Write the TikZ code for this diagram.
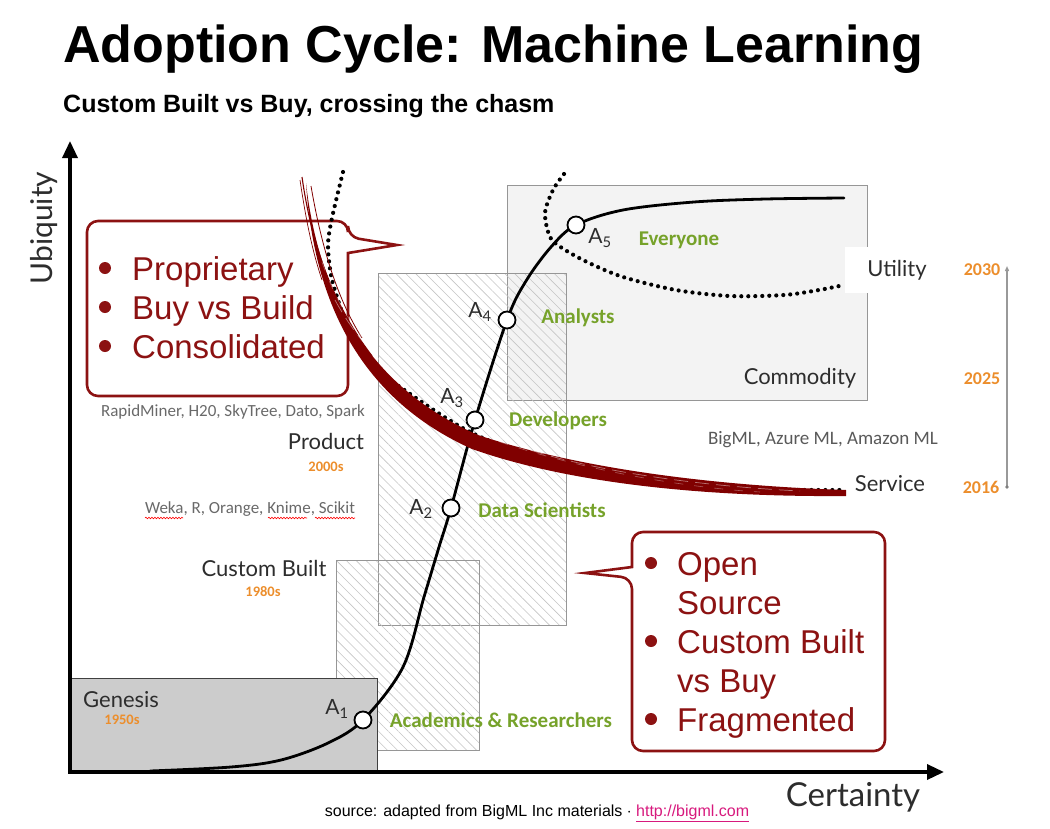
\documentclass[tikz,border=0pt]{standalone}
\usepackage{fontspec}
\setmainfont{Liberation Sans}
\newfontfamily\gillfont{Lato}
\newfontfamily\califont{Carlito}
\usetikzlibrary{positioning,arrows.meta,patterns.meta,decorations.pathmorphing}

\definecolor{chasmred}{RGB}{140,18,18}
\definecolor{brushred}{RGB}{128,0,0}
\definecolor{stagegreen}{RGB}{118,162,42}
\definecolor{yearorange}{RGB}{236,142,44}
\definecolor{vendorgray}{RGB}{105,105,105}
\definecolor{labeldark}{RGB}{45,45,45}
\definecolor{genesisfill}{RGB}{204,204,204}
\definecolor{commodityfill}{RGB}{243,243,243}
\definecolor{boxline}{RGB}{150,150,150}
\definecolor{linkpink}{RGB}{215,25,125}

\tikzset{
  stagelabel/.style={font=\gillfont\fontsize{22}{25}\selectfont, text=labeldark},
  eralabel/.style={font=\califont\bfseries\fontsize{14.5}{16}\selectfont, text=yearorange},
  yearlabel/.style={font=\califont\bfseries\fontsize{18}{20}\selectfont, text=yearorange},
  vendors/.style={font=\califont\fontsize{17}{19}\selectfont, text=vendorgray},
  persona/.style={font=\califont\bfseries\fontsize{21}{23}\selectfont, text=stagegreen},
  adopter/.style={circle, draw=black, fill=white, line width=1.8, minimum size=17, inner sep=0},
  alabel/.style={font=\gillfont\fontsize{21}{24}\selectfont, text=labeldark},
  hatchbox/.style={draw=boxline, line width=1, inner sep=0,
    pattern={Lines[angle=-45,distance=7pt,line width=0.6pt]}, pattern color=boxline!55},
  calloutbox/.style={draw=chasmred, line width=2.6, fill=white, rounded corners=11},
  bulletline/.style={font=\fontsize{33}{38}\selectfont, text=chasmred, anchor=base west, inner sep=0},
  chasmdots/.style={line width=4.2, dash pattern=on 0pt off 7pt, line cap=round},
  spellcheck/.style={red, line width=0.6, decorate, decoration={snake, amplitude=0.8, segment length=3}},
}

\begin{document}
\begin{tikzpicture}[x=1pt, y=-1pt]
\useasboundingbox (0,0) rectangle (1050,828);

% heading
\node[anchor=base west, inner sep=0, font=\bfseries\fontsize{52}{60}\selectfont] (title) at (63,62) {Adoption Cycle: Machine Learning};
\node[anchor=base west, inner sep=0, font=\bfseries\fontsize{25}{29}\selectfont] (subtitle) at (63,112) {Custom Built vs Buy, crossing the chasm};

% stage boxes
\node[draw=boxline, fill=commodityfill, line width=1, inner sep=0, minimum width=360, minimum height=215, anchor=north west] (commoditybox) at (507,185) {};
\node[hatchbox, minimum width=188, minimum height=352, anchor=north west] (productbox) at (378,273) {};
\node[hatchbox, minimum width=143, minimum height=190, anchor=north west] (custombox) at (336,560) {};
\node[draw=black!75, fill=genesisfill, line width=1.2, inner sep=0, minimum width=307, minimum height=94, anchor=north west] (genesisbox) at (70,678) {};

% stage names
\node[stagelabel] (commodity) at (800,378) {Commodity};
\fill[white] (845,247) rectangle (870,293);
\node[stagelabel] (utility) at (897,270) {Utility};
\node[stagelabel] (service) at (890,484) {Service};
\node[stagelabel] (product) at (326,441) {Product};
\node[eralabel] (era2000) at (326,467) {2000s};
\node[stagelabel] (custombuilt) at (264,568) {Custom Built};
\node[eralabel] (era1980) at (263,592) {1980s};
\node[stagelabel, anchor=west, inner sep=0] (genesis) at (83,700) {Genesis};
\node[eralabel] (era1950) at (122,720) {1950s};

% vendors
\node[vendors] (closedml) at (233,412) {RapidMiner, H20, SkyTree, Dato, Spark};
\node[vendors] (openml) at (250,509) {Weka, R, Orange, Knime, Scikit};
\node[vendors, font=\califont\fontsize{19}{21}\selectfont, text=black!65] (cloudml) at (823,440) {BigML, Azure ML, Amazon ML};
\draw[spellcheck] (145,518) -- (183,518);
\draw[spellcheck] (268,518) -- (307,518);
\draw[spellcheck] (315,518) -- (355,518);

% axes
\coordinate (origin) at (70,772);
\coordinate (ytip) at (70,141);
\coordinate (xtip) at (944,772);
\draw[line width=3.4, {Triangle[length=17pt,width=15pt]}-{Triangle[length=17pt,width=15pt]}] (ytip) -- (origin) -- (xtip);
\node[font=\gillfont\fontsize{30}{34}\selectfont, text=labeldark, rotate=90] (ubiquity) at (44,228) {Ubiquity};
\node[font=\gillfont\fontsize{33}{36}\selectfont, text=labeldark] (certainty) at (853,797) {Certainty};

% adoption curve
\draw[line width=2.8, line cap=round] plot[smooth, tension=0.55] coordinates {(150,771) (231,767) (281,760) (328,743) (363,720) (403,667) (424,597) (439,547) (451,508) (475,420) (507,320) (526,281) (551,247) (576,225) (623,210) (694,202) (766,199) (844,198)};
\foreach \n/\x/\y in {1/363/720, 2/451/508, 3/475/420, 4/507/320, 5/576/225}
  \node[adopter] (A\n) at (\x,\y) {};
\node[alabel] (a1) at (337,709) {A\textsubscript{1}};
\node[alabel] (a2) at (421,509) {A\textsubscript{2}};
\node[alabel] (a3) at (452,398) {A\textsubscript{3}};
\node[alabel] (a4) at (480,312) {A\textsubscript{4}};
\node[alabel] (a5) at (600,238) {A\textsubscript{5}};
\node[persona] (academics) at (501,720) {Academics \& Researchers};
\node[persona] (scientists) at (542,510) {Data Scientists};
\node[persona] (developers) at (558,421) {Developers};
\node[persona] (analysts) at (578,318) {Analysts};
\node[persona] (everyone) at (679,240) {Everyone};

% callouts
\draw[calloutbox] (87,221) -- (348,221) -- (348,237) [sharp corners] -- (397,245) -- (348,253) [rounded corners=11] -- (348,396) -- (87,396) -- cycle;
\foreach \t [count=\i] in {Proprietary, Buy vs Build, Consolidated} {
  \fill[chasmred] (105,229+39*\i) circle (6);
  \node[bulletline] (closed\i) at (132,241+39*\i) {\t};
}
\draw[calloutbox] (632,532) -- (885,532) -- (885,751) -- (632,751) -- (632,578) [sharp corners] -- (585,573) -- (632,567) [rounded corners=11] -- cycle;
\foreach \y in {563,641,719}
  \fill[chasmred] (651,\y) circle (6);
\node[bulletline] (open1) at (677,575) {Open};
\node[bulletline] (open2) at (677,614) {Source};
\node[bulletline] (open3) at (677,653) {Custom Built};
\node[bulletline] (open4) at (677,692) {vs Buy};
\node[bulletline] (open5) at (677,731) {Fragmented};

% chasm
\draw[chasmdots] plot[smooth] coordinates {(343,172) (332,218) (328,245) (331,275) (338,300) (347,325) (360,347) (380,370) (400,387) (470,432) (550,462) (650,480) (760,489) (846,490)};
\draw[chasmdots] plot[smooth] coordinates {(564,174) (553,190) (545,213) (550,237) (562,248) (587,262) (623,277) (676,290) (730,296) (784,295) (819,290) (844,285)};
\fill[brushred] (306,183) .. controls (319,298) and (371,388) .. (478,435)
  .. controls (583,470) and (722,486) .. (846,490)
  -- (846,496) .. controls (718,497) and (577,486) .. (472,449)
  .. controls (363,400) and (314,306) .. (306,183) -- cycle;
\draw[brushred, line width=1.1] (302,177) .. controls (311,240) and (330,300) .. (372,356);
\draw[brushred, line width=0.8] (311,186) .. controls (322,250) and (338,300) .. (362,338);
\draw[brushred, line width=0.7] (300,180) .. controls (306,220) and (312,250) .. (322,280);
\draw[white, opacity=0.45, line width=0.7, dash pattern=on 14pt off 7pt] (335,300) .. controls (372,368) and (430,410) .. (530,450) .. controls (600,472) and (700,486) .. (800,491);
\draw[white, opacity=0.35, line width=0.6, dash pattern=on 9pt off 11pt] (322,262) .. controls (352,350) and (420,405) .. (500,442) .. controls (590,472) and (690,488) .. (760,492);

% timeline
\node[yearlabel] (y2030) at (982,270) {2030};
\node[yearlabel] (y2025) at (982,379) {2025};
\node[yearlabel] (y2016) at (981,487) {2016};
\coordinate (tlow) at (1007,487);
\coordinate (thigh) at (1007,266);
\draw[black!40, line width=1.3, -{Triangle[length=5pt,width=4pt]}] (tlow) -- (thigh);
\fill[black!50] (tlow) circle (1.8);

% source
\node[font=\fontsize{16}{19}\selectfont] (source) at (537,813) {source: adapted from BigML Inc materials $\cdot$ \textcolor{linkpink}{\underline{http://bigml.com}}};
\end{tikzpicture}
\end{document}
